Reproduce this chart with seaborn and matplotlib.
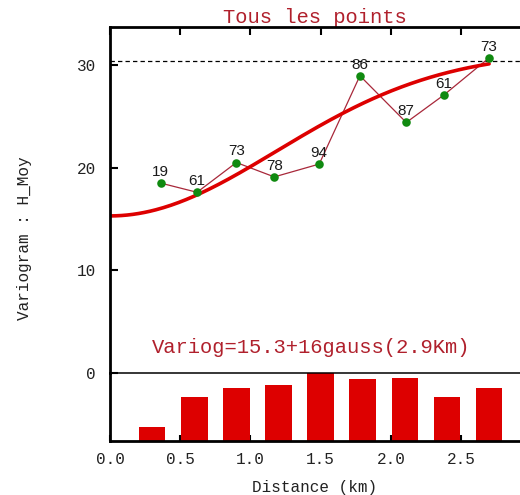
import numpy as np
import pandas as pd
import matplotlib
matplotlib.use("Agg")
import matplotlib.pyplot as plt
import seaborn as sns

# Experimental variogram (mean lag distance, semivariance, number of pairs)
lag_dist = [0.36, 0.62, 0.90, 1.17, 1.49, 1.78, 2.11, 2.38, 2.70]
gamma = [18.5, 17.6, 20.5, 19.1, 20.35, 28.95, 24.4, 27.1, 30.7]
n_pairs = [19, 61, 73, 78, 94, 86, 87, 61, 73]

# Lag class centres for the pair-count histogram
lag_centres = [0.3, 0.6, 0.9, 1.2, 1.5, 1.8, 2.1, 2.4, 2.7]

# Fitted model: nugget + sill * gauss(range)
nugget = 15.3
sill = 16
model_range = 2.9
variance = 30.4

x_ticks = [0.0, 0.5, 1.0, 1.5, 2.0, 2.5]
y_ticks = [0, 10, 20, 30]

sns.set_theme(style="white")
plt.rcParams["font.family"] = ["Liberation Mono", "DejaVu Sans Mono"]

dark_red = "#b0202c"
red = "#dd0000"
green = "#108a10"

W, H = 520, 495
fig = plt.figure(figsize=(W / 100, H / 100), dpi=100)

def frac_box(x0, y0, x1, y1):
    return [x0 / W, 1 - y1 / H, (x1 - x0) / W, (y1 - y0) / H]

axh = fig.add_axes(frac_box(110, 373, 520, 441))
ax = fig.add_axes(frac_box(110, 27, 520, 373), sharex=axh)
ax.patch.set_visible(False)
axh.patch.set_visible(False)

xmax = 2.92

# --- variogram panel
df = pd.DataFrame({"dist": lag_dist, "gamma": gamma, "n": n_pairs})
sns.lineplot(data=df, x="dist", y="gamma", ax=ax, color="#a8283a", lw=0.9,
             sort=False, estimator=None)
h = np.linspace(0, max(lag_dist), 200)
model = nugget + sill * (1 - np.exp(-3 * (h / model_range) ** 2))
sns.lineplot(x=h, y=model, ax=ax, color=red, lw=2.6, estimator=None, sort=False)
sns.scatterplot(data=df, x="dist", y="gamma", ax=ax, color=green, s=38,
                edgecolor=green, linewidth=0, zorder=5)
for d, g, n in zip(lag_dist, gamma, n_pairs):
    ax.annotate(str(n), (d, g), xytext=(0, 3), textcoords="offset points",
                ha="center", va="bottom", fontsize=11, color="#1a1a1a",
                family=["Liberation Sans", "DejaVu Sans"], zorder=6)

ax.axhline(variance, color="black", lw=0.9, ls=(0, (3.5, 2.5)))

ax.text(1.43, 2.5, f"Variog={nugget}+{sill}gauss({model_range}Km)",
        ha="center", va="center", fontsize=14.8, color=dark_red)

ax.set_xlim(0, xmax)
ax.set_ylim(0, 33.7)
ax.set_yticks(y_ticks)
ax.set_yticklabels([str(v) for v in y_ticks])
ax.set_xticks(x_ticks)
ax.tick_params(axis="x", top=True, bottom=False, labelbottom=False,
               labeltop=False, direction="in", length=6, width=1.5,
               color="black")
ax.tick_params(axis="y", left=True, direction="in", length=6, width=1.5,
               pad=10, labelsize=11.5, color="black", labelcolor="#222222")
ax.set_xlabel("")
ax.set_ylabel("")
ax.spines["right"].set_visible(False)
ax.spines["left"].set_linewidth(2)
ax.spines["top"].set_linewidth(2)
ax.spines["bottom"].set_linewidth(1.1)
for s in ax.spines.values():
    s.set_color("black")
    s.set_zorder(10)
ax.set_title("Tous les points", fontsize=14.8, color=dark_red, pad=3)

# --- pair-count histogram panel
sns.barplot(x=lag_centres, y=n_pairs, ax=axh, native_scale=True,
            color=red, saturation=1, width=0.19 / 0.3, errorbar=None,
            edgecolor="none", linewidth=0)
axh.set_xlim(0, xmax)
axh.set_ylim(0, 94)
axh.set_yticks([])
axh.set_xticks(x_ticks)
axh.set_xticklabels([f"{v:.1f}" for v in x_ticks])
axh.tick_params(axis="x", bottom=True, direction="in", length=4, width=1.5,
                pad=8, labelsize=11.5, color="black", labelcolor="#222222")
axh.spines["top"].set_visible(False)
axh.spines["right"].set_visible(False)
axh.spines["left"].set_linewidth(2)
axh.spines["bottom"].set_linewidth(2)
for s in axh.spines.values():
    s.set_color("black")
axh.set_xlabel("Distance (km)", fontsize=11.5, color="#222222", labelpad=9)
axh.set_ylabel("")

fig.text(25 / W, 1 - 238 / H, "Variogram : H_Moy", rotation=90,
         ha="center", va="center", fontsize=11.5, color="#222222")

fig.savefig("out.png", dpi=100, facecolor="white")
